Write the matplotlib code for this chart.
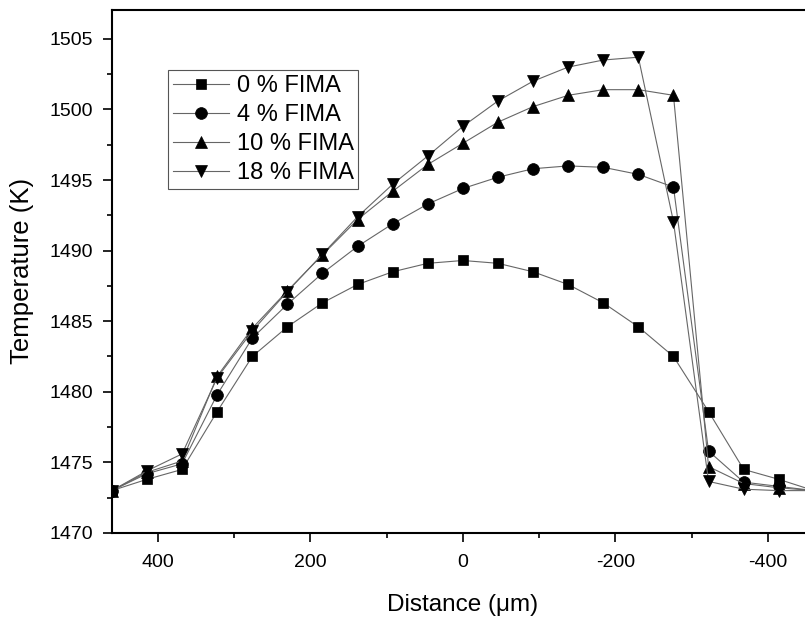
import numpy as np
import matplotlib
matplotlib.use("Agg")
import matplotlib.pyplot as plt
from matplotlib.ticker import MultipleLocator

plt.rcParams['font.family'] = ['Liberation Sans', 'DejaVu Sans']
plt.rcParams['axes.unicode_minus'] = False

# distance from centre (um), 46 um steps
distance = [460, 414, 368, 322, 276, 230, 184, 138, 92, 46, 0,
            -46, -92, -138, -184, -230, -276, -322, -368, -414, -460]

# temperature (K) for each burnup
t_0 = [1473.0, 1473.8, 1474.5, 1478.6, 1482.5, 1484.6, 1486.3, 1487.6, 1488.5, 1489.1, 1489.3,
       1489.1, 1488.5, 1487.6, 1486.3, 1484.6, 1482.5, 1478.6, 1474.5, 1473.8, 1473.0]
t_4 = [1473.0, 1474.2, 1474.9, 1479.8, 1483.8, 1486.2, 1488.4, 1490.3, 1491.9, 1493.3, 1494.4,
       1495.2, 1495.8, 1496.0, 1495.9, 1495.4, 1494.5, 1475.8, 1473.6, 1473.3, 1473.0]
t_10 = [1473.0, 1474.3, 1475.1, 1481.1, 1484.5, 1487.15, 1489.7, 1492.2, 1494.2, 1496.1, 1497.6,
        1499.1, 1500.2, 1501.0, 1501.4, 1501.4, 1501.0, 1474.7, 1473.5, 1473.2, 1473.0]
t_18 = [1473.0, 1474.4, 1475.6, 1481.0, 1484.3, 1487.1, 1489.75, 1492.4, 1494.7, 1496.7, 1498.8,
        1500.6, 1502.0, 1503.0, 1503.5, 1503.7, 1492.05, 1473.65, 1473.1, 1473.0, 1473.0]

series = [(t_0, "s", 7.5, "0 % FIMA"),
          (t_4, "o", 8.5, "4 % FIMA"),
          (t_10, "^", 9, "10 % FIMA"),
          (t_18, "v", 9, "18 % FIMA")]


def main():
	fig = plt.figure(figsize=(8.05, 6.19), dpi=100)
	ax = fig.add_axes([0.139, 0.139, 1.011 - 0.139, 0.984 - 0.139])
	for temps, mk, ms, lab in series:
		ax.plot(distance, temps, color="#666666", linewidth=0.8, marker=mk,
				markersize=ms, markerfacecolor="k", markeredgecolor="k",
				markeredgewidth=0.5, label=lab)

	ax.set_xlim(460, -460)
	ax.set_ylim(1470, 1507.05)
	ax.xaxis.set_major_locator(MultipleLocator(200))
	ax.xaxis.set_minor_locator(MultipleLocator(100))
	ax.yaxis.set_major_locator(MultipleLocator(5))
	ax.yaxis.set_minor_locator(MultipleLocator(2.5))
	ax.tick_params(which="major", direction="out", length=6.5, width=1.2, labelsize=14)
	ax.tick_params(which="minor", direction="out", length=3.5, width=1.2)
	ax.tick_params(axis="x", which="major", pad=9)
	ax.tick_params(axis="y", which="major", pad=7)
	for sp in ax.spines.values():
		sp.set_linewidth(1.5)

	ax.set_xlabel("Distance (\u03bcm)", fontsize=17.5, labelpad=16)
	ax.set_ylabel("Temperature (K)", fontsize=18.5, labelpad=11)

	leg = ax.legend(loc="upper left", bbox_to_anchor=(0.08, 0.885), borderaxespad=0,
					fontsize=17, handlelength=2.4, handletextpad=0.3, labelspacing=0.3,
					borderpad=0.2, fancybox=False, framealpha=1, edgecolor="#555555")
	leg.get_frame().set_linewidth(0.8)

	fig.savefig("out.png", dpi=100)


if __name__ == "__main__":
	main()
